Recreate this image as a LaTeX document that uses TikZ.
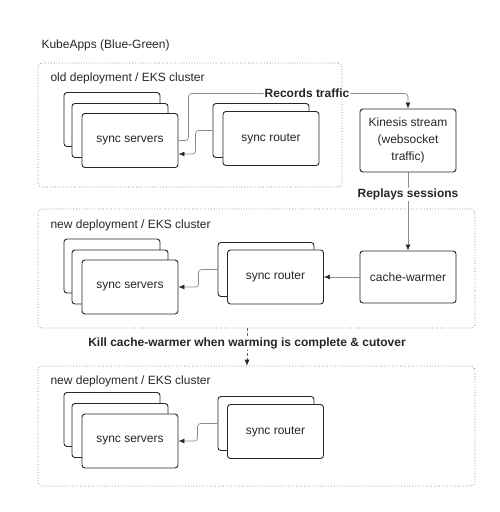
\documentclass[tikz,border=0pt]{standalone}
\usepackage{fontspec}
\setmainfont{Liberation Sans}
\usetikzlibrary{positioning,arrows.meta,calc}

\begin{document}
\begin{tikzpicture}[x=1pt,y=-1pt]
		\tikzstyle{every node}+=[font=\fontsize{12}{17}\selectfont, text=black!85]
		\tikzstyle{box}=[draw=black!85, line width=0.9pt, fill=white, rounded corners=3pt, minimum width=96pt, minimum height=54pt, inner sep=2pt, align=center]
		\tikzstyle{grp}=[draw=black!55, dotted, line width=0.7pt, rounded corners=4pt, inner sep=0pt]
		\tikzstyle{conn}=[draw=black!45, line width=0.7pt, rounded corners=3pt, -{Latex[length=6pt,width=5pt,color=black!85]}]
		\tikzstyle{lbl}=[fill=white, inner sep=1pt, font=\bfseries\fontsize{12}{14}\selectfont]
		\useasboundingbox (0,0) rectangle (500,512);
		\node [anchor=west] (title) at (38,45) {KubeApps (Blue-Green)};
		\node [grp, minimum width=304pt, minimum height=124pt] (old) at (190,125) {};
		\node [anchor=west] (oldlbl) at (47,78) {old deployment / EKS cluster};
		\node [grp, minimum width=437pt, minimum height=119pt] (new1) at (256.5,268.5) {};
		\node [anchor=west] (new1lbl) at (47,225) {new deployment / EKS cluster};
		\node [grp, minimum width=437pt, minimum height=120pt] (new2) at (256.5,426) {};
		\node [anchor=west] (new2lbl) at (47,381) {new deployment / EKS cluster};
		\node [box] (ss1b) at (112,119.5) {};
		\node [box] (ss1m) at (120,130.5) {};
		\node [box] (ss1) at (130,140.5) {sync servers};
		\node [box] (rt1b) at (261,130.5) {};
		\node [box] (rt1) at (271,138.5) {sync router};
		\node [box, minimum height=63pt] (kin) at (408,140.5) {Kinesis stream\\(websocket\\traffic)};
		\node [box] (ss2b) at (112,266) {};
		\node [box] (ss2m) at (120,277) {};
		\node [box] (ss2) at (130,287) {sync servers};
		\node [box] (rt2b) at (266,269.5) {};
		\node [box] (rt2) at (275.5,277) {sync router};
		\node [box, minimum height=52pt] (cw) at (408,277) {cache-warmer};
		\node [box] (ss3b) at (112,419.5) {};
		\node [box] (ss3m) at (120,430.5) {};
		\node [box] (ss3) at (130,441) {sync servers};
		\node [box] (rt3b) at (266,423.5) {};
		\node [box] (rt3) at (275.5,431.5) {sync router};
		\coordinate (cut) at (247,343);
		\draw [conn] (ss1.east) -- ++(10,0) |- node [lbl, pos=0.77] {Records traffic} ($(kin.north)+(0,-15)$) -- (kin.north);
		\draw [conn] (rt1b.west) -- ++(-17,0) |- ($(ss1.east)+(0,13.5)$);
		\draw [conn] (kin.south) -- node [lbl, pos=0.28] {Replays sessions} (cw.north);
		\draw [conn] (cw.west) -- (rt2.east);
		\draw [conn] (rt2b.west) -- ++(-19,0) |- (ss2.east);
		\draw [conn, draw=black!60, densely dashed] (new1.south -| cut) -- node [lbl, pos=0.4] {Kill cache-warmer when warming is complete \& cutover} (new2.north -| cut);
		\draw [conn] (rt3b.west) -- ++(-20,0) |- (ss3.east);
		\end{tikzpicture}
\end{document}
